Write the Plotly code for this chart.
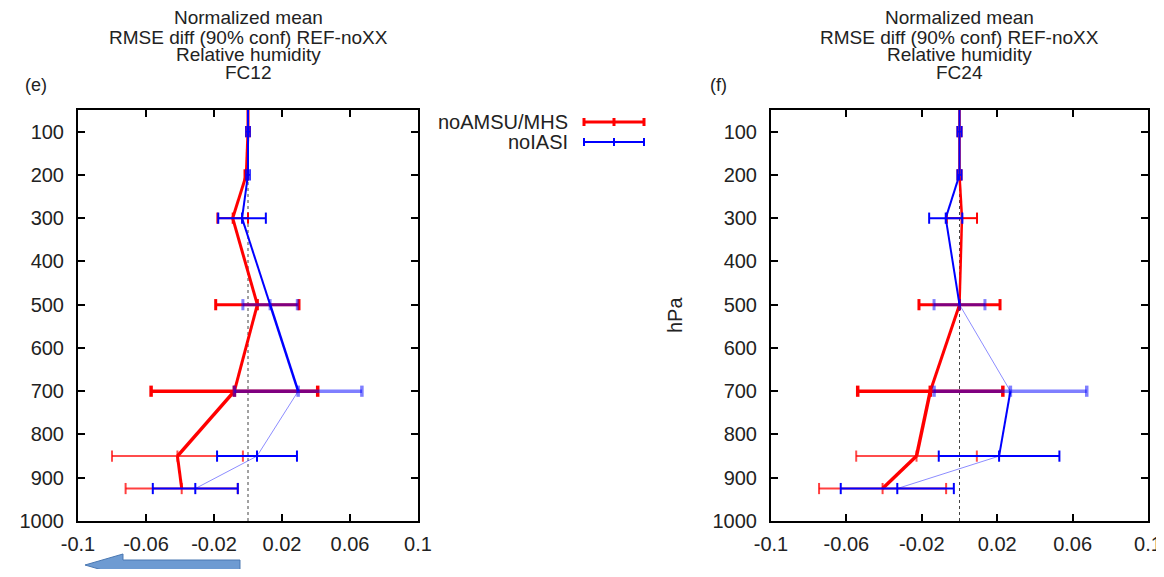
import plotly.graph_objects as go

# page is 1164x577; the html body has an 8px margin, so the figure is 16px smaller
PAGE_W, PAGE_H = 1164, 577
OFF = 8
W, H = PAGE_W - 2 * OFF, PAGE_H - 2 * OFF

# ---------------- data ----------------
levels = [50, 100, 200, 300, 500, 700, 850, 925]
y_ticks = [100, 200, 300, 400, 500, 600, 700, 800, 900, 1000]
x_ticks = [-0.1, -0.06, -0.02, 0.02, 0.06, 0.1]
x_tick_text = ["-0.1", "-0.06", "-0.02", "0.02", "0.06", "0.1"]

# FC12 (panel e)
fc12_noamsu_mean = [0.0, 0.0, -0.001, -0.009, 0.0055, -0.008, -0.0415, -0.039]
fc12_noamsu_err = [None, 0.0012, 0.0012, 0.009, 0.0245, 0.049, 0.0385, 0.033]
fc12_noiasi_mean = [0.0, 0.0, 0.0, -0.0035, 0.013, 0.0295, 0.0053, -0.031]
fc12_noiasi_err = [None, 0.0012, 0.0012, 0.014, 0.016, 0.0375, 0.0235, 0.025]

# FC24 (panel f)
fc24_noamsu_mean = [0.0, 0.0, 0.0, 0.0013, 0.0, -0.0155, -0.0228, -0.0408]
fc24_noamsu_err = [None, 0.0012, 0.0012, 0.008, 0.0215, 0.0385, 0.032, 0.0337]
fc24_noiasi_mean = [0.0, 0.0, 0.0, -0.0073, 0.0, 0.027, 0.021, -0.033]
fc24_noiasi_err = [None, 0.0012, 0.0012, 0.0088, 0.0135, 0.0405, 0.032, 0.030]

series_names = ["noAMSU/MHS", "noIASI"]
title_lines = ["Normalized mean", "RMSE diff (90% conf) REF-noXX", "Relative humidity"]
lead_times = ["FC12", "FC24"]
panel_tags = ["(e)", "(f)"]

# ---------------- styles ----------------
RED = (255, 0, 0)
BLUE = (0, 0, 255)


def rgba(c, a):
    return "rgba(%d,%d,%d,%.2f)" % (c[0], c[1], c[2], a)


# (width, alpha) for line segments between consecutive levels
seg_style = {
    ("x", "red"): [(3, 1), (3, 1), (3, 1), (3, 1), (3, 1), (3.5, 1), (3, 1)],
    ("x", "blue"): [(2, 1), (2, 1), (2, 1), (2, 1), (2.5, 1), (1, 0.45), (1, 0.45)],
    ("x2", "red"): [(2.5, 1), (2.5, 1), (2.5, 1), (2.5, 1), (3, 1), (3.5, 1), (3.5, 1)],
    ("x2", "blue"): [(2, 1), (2, 1), (2, 1), (2, 1), (1, 0.45), (2, 1), (1, 0.45)],
}
# (width, alpha) for error bars at each level
bar_style = {
    ("x", "red"): [None, (1.5, 1), (1.5, 1), (2, 1), (3, 1), (3.5, 1), (2, 0.7), (2, 0.75)],
    ("x", "blue"): [None, (1.5, 1), (1.5, 1), (2, 1), (3, 0.5), (3.5, 0.5), (2, 1), (2, 1)],
    ("x2", "red"): [None, (1.5, 1), (1.5, 1), (2, 1), (3, 1), (3.5, 1), (2, 0.7), (2, 0.75)],
    ("x2", "blue"): [None, (1.5, 1), (1.5, 1), (2, 1), (3, 0.5), (3.5, 0.5), (2, 1), (2, 1)],
}

FONT = "Liberation Sans, Arial, sans-serif"
TXT = "#222222"


def px(x):
    return (x - OFF) / W


def py(y):
    return 1 - (y - OFF) / H


fig = go.Figure()

panels = [
    dict(xa="x", ya="y", red=(fc12_noamsu_mean, fc12_noamsu_err),
         blue=(fc12_noiasi_mean, fc12_noiasi_err)),
    dict(xa="x2", ya="y2", red=(fc24_noamsu_mean, fc24_noamsu_err),
         blue=(fc24_noiasi_mean, fc24_noiasi_err)),
]

for p in panels:
    for key, col in (("red", RED), ("blue", BLUE)):
        mean, err = p[key]
        segs = seg_style[(p["xa"], key)]
        for i in range(len(levels) - 1):
            w, a = segs[i]
            fig.add_trace(go.Scatter(
                x=[mean[i], mean[i + 1]], y=[levels[i], levels[i + 1]],
                mode="lines", line=dict(color=rgba(col, a), width=w),
                xaxis=p["xa"], yaxis=p["ya"], showlegend=False, hoverinfo="skip"))
        bars = bar_style[(p["xa"], key)]
        for i, lev in enumerate(levels):
            if err[i] is None:
                continue
            w, a = bars[i]
            c = rgba(col, a)
            fig.add_trace(go.Scatter(
                x=[mean[i] - err[i], mean[i], mean[i] + err[i]], y=[lev, lev, lev],
                mode="lines+markers", line=dict(color=c, width=w),
                marker=dict(symbol="line-ns", size=8, line=dict(color=c, width=w)),
                xaxis=p["xa"], yaxis=p["ya"], showlegend=False, hoverinfo="skip"))

axis_common = dict(
    showgrid=False, zeroline=False, showline=True, linecolor="black", linewidth=2,
    mirror="ticks", ticks="inside", ticklen=7, tickwidth=1.5, tickcolor="black",
    tickfont=dict(family=FONT, size=20, color=TXT), automargin=False,
    ticklabeloverflow="allow",
)

x_domains = [[px(78), px(418)], [px(771), px(1148)]]
y_domain = [py(521), py(110)]

for k, xa, ya in ((0, "xaxis", "yaxis"), (1, "xaxis2", "yaxis2")):
    fig.layout[xa] = dict(axis_common, domain=x_domains[k], range=[-0.1, 0.1],
                          tickvals=x_ticks, ticktext=x_tick_text,
                          anchor="y" if k == 0 else "y2", ticklabelstandoff=4)
    fig.layout[ya] = dict(axis_common, domain=y_domain, range=[1000, 50],
                          tickvals=y_ticks, ticktext=[str(v) for v in y_ticks],
                          anchor="x" if k == 0 else "x2", ticklabelstandoff=8)

# dotted zero reference lines
for xr, yr in (("x", "y domain"), ("x2", "y2 domain")):
    fig.add_shape(type="line", xref=xr, yref=yr, x0=0, x1=0, y0=0, y1=1,
                  line=dict(color="#444444", width=1, dash="dot"), layer="below")

# titles
centers = [248, 959.5]
line_y = [18, 37, 55, 73]
annotations = []
for k in range(2):
    lines = title_lines + [lead_times[k]]
    for j, t in enumerate(lines):
        annotations.append(dict(x=px(centers[k]), y=py(line_y[j]), xref="paper", yref="paper",
                                text=t, showarrow=False, xanchor="center", yanchor="middle",
                                font=dict(family=FONT, size=19, color=TXT)))
annotations.append(dict(x=px(23), y=py(73), xref="paper", yref="paper", text=panel_tags[0],
                        showarrow=False, font=dict(family=FONT, size=18, color=TXT)))
annotations.append(dict(x=px(718), y=py(73), xref="paper", yref="paper", text=panel_tags[1],
                        showarrow=False, font=dict(family=FONT, size=18, color=TXT)))
annotations.append(dict(x=px(675), y=py(315), xref="paper", yref="paper", text="hPa",
                        textangle=-90, showarrow=False,
                        font=dict(family=FONT, size=20, color=TXT)))

# legend
leg_y = [122, 142]
leg_cols = [RED, BLUE]
leg_w = [3, 2]
for j in range(2):
    annotations.append(dict(x=px(570), y=py(leg_y[j]), xref="paper", yref="paper",
                            text=series_names[j], showarrow=False, xanchor="right",
                            yanchor="middle", font=dict(family=FONT, size=20, color=TXT)))
    c = rgba(leg_cols[j], 1)
    fig.add_shape(type="line", xref="paper", yref="paper", x0=px(584), x1=px(644),
                  y0=py(leg_y[j]), y1=py(leg_y[j]), line=dict(color=c, width=leg_w[j]))
    for xx in (584, 614, 644):
        fig.add_shape(type="line", xref="paper", yref="paper", x0=px(xx), x1=px(xx),
                      y0=py(leg_y[j] - 4), y1=py(leg_y[j] + 4), line=dict(color=c, width=leg_w[j]))

# blue arrow (pointing left) below panel (e)
pts = [(85, 565), (123, 554), (123, 560), (240, 560), (240, 570), (123, 570), (123, 576)]
path = "M " + " L ".join("%.5f,%.5f" % (px(a), py(b)) for a, b in pts) + " Z"
fig.add_shape(type="path", xref="paper", yref="paper", path=path,
              fillcolor="#6e9bd2", line=dict(color="#4a78b2", width=1))

fig.update_layout(
    width=W, height=H, margin=dict(l=0, r=0, t=0, b=0),
    paper_bgcolor="white", plot_bgcolor="white", showlegend=False,
    annotations=annotations, font=dict(family=FONT, color=TXT),
)

fig.write_html("out.html")
